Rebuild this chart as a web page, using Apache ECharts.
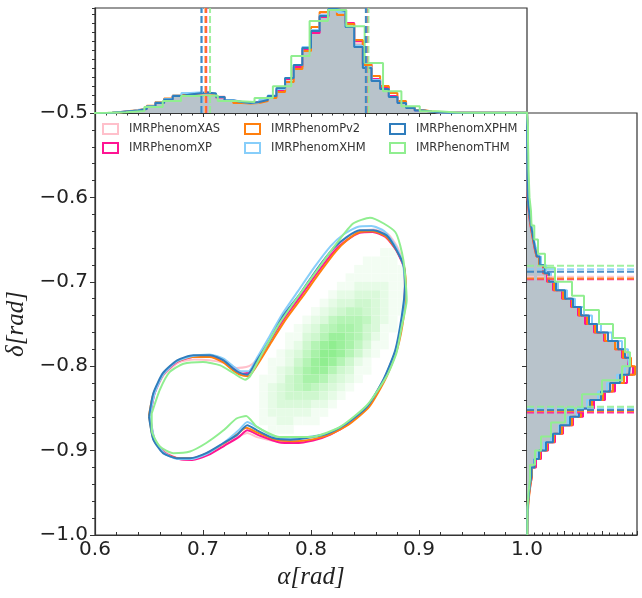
<!DOCTYPE html>
<html><head><meta charset="utf-8">
<script src="https://cdn.jsdelivr.net/npm/echarts@6/dist/echarts.min.js"></script>
<style>html,body{margin:0;padding:0;background:#fff}#c{width:642px;height:598px}</style>
</head><body><div id="c"></div>
<script>
// ---------- data ----------
const names = ['IMRPhenomXAS','IMRPhenomXP','IMRPhenomPv2','IMRPhenomXHM','IMRPhenomXPHM','IMRPhenomTHM'];
const colors = ['#ffc0cb','#ff1493','#ff7f0e','#87cefa','#2f7dbd','#90ee90'];

// 90% contours in (alpha, delta)
const contourXAS = [[0.651,-0.858],[0.655,-0.886],[0.665,-0.902],[0.678,-0.909],[0.691,-0.909],[0.705,-0.902],[0.720,-0.891],[0.733,-0.883],[0.741,-0.879],[0.750,-0.884],[0.768,-0.889],[0.785,-0.890],[0.802,-0.887],[0.818,-0.880],[0.835,-0.867],[0.853,-0.846],[0.868,-0.814],[0.879,-0.779],[0.885,-0.740],[0.887,-0.705],[0.886,-0.681],[0.880,-0.659],[0.871,-0.643],[0.858,-0.638],[0.845,-0.640],[0.833,-0.648],[0.821,-0.662],[0.805,-0.688],[0.790,-0.715],[0.775,-0.742],[0.762,-0.768],[0.753,-0.787],[0.746,-0.797],[0.740,-0.801],[0.731,-0.802],[0.719,-0.796],[0.706,-0.793],[0.692,-0.792],[0.677,-0.796],[0.664,-0.810],[0.655,-0.833]];
const contourXP = [[0.651,-0.860],[0.655,-0.887],[0.665,-0.903],[0.678,-0.910],[0.690,-0.911],[0.705,-0.905],[0.720,-0.894],[0.733,-0.884],[0.741,-0.876],[0.752,-0.882],[0.770,-0.890],[0.785,-0.891],[0.802,-0.888],[0.818,-0.881],[0.835,-0.868],[0.853,-0.847],[0.868,-0.815],[0.879,-0.780],[0.885,-0.741],[0.887,-0.706],[0.886,-0.683],[0.879,-0.663],[0.869,-0.647],[0.857,-0.641],[0.845,-0.642],[0.834,-0.650],[0.822,-0.663],[0.806,-0.689],[0.791,-0.716],[0.776,-0.742],[0.763,-0.768],[0.752,-0.792],[0.743,-0.807],[0.736,-0.809],[0.729,-0.802],[0.719,-0.793],[0.706,-0.788],[0.690,-0.789],[0.676,-0.795],[0.663,-0.810],[0.655,-0.833]];
const contourPv2 = [[0.650,-0.858],[0.654,-0.886],[0.664,-0.903],[0.677,-0.909],[0.690,-0.909],[0.704,-0.903],[0.720,-0.891],[0.732,-0.880],[0.740,-0.873],[0.751,-0.879],[0.767,-0.887],[0.784,-0.889],[0.800,-0.887],[0.817,-0.881],[0.835,-0.869],[0.854,-0.848],[0.869,-0.815],[0.880,-0.779],[0.886,-0.740],[0.888,-0.705],[0.886,-0.681],[0.879,-0.662],[0.869,-0.646],[0.857,-0.640],[0.845,-0.641],[0.834,-0.650],[0.823,-0.664],[0.807,-0.691],[0.792,-0.718],[0.777,-0.744],[0.764,-0.770],[0.752,-0.795],[0.742,-0.812],[0.734,-0.810],[0.727,-0.804],[0.718,-0.795],[0.706,-0.789],[0.690,-0.789],[0.675,-0.795],[0.663,-0.810],[0.654,-0.833]];
const contourXHM = [[0.651,-0.858],[0.655,-0.886],[0.664,-0.903],[0.677,-0.910],[0.690,-0.910],[0.705,-0.903],[0.721,-0.889],[0.733,-0.876],[0.741,-0.866],[0.750,-0.872],[0.765,-0.883],[0.781,-0.886],[0.797,-0.884],[0.816,-0.879],[0.834,-0.867],[0.853,-0.846],[0.868,-0.814],[0.879,-0.779],[0.885,-0.740],[0.887,-0.704],[0.885,-0.678],[0.878,-0.657],[0.868,-0.640],[0.856,-0.634],[0.843,-0.635],[0.830,-0.644],[0.818,-0.658],[0.803,-0.683],[0.788,-0.711],[0.773,-0.739],[0.761,-0.766],[0.750,-0.790],[0.742,-0.806],[0.735,-0.806],[0.728,-0.800],[0.719,-0.791],[0.706,-0.786],[0.690,-0.788],[0.675,-0.795],[0.663,-0.810],[0.655,-0.833]];
const contourXPHM = [[0.650,-0.860],[0.654,-0.887],[0.663,-0.903],[0.676,-0.909],[0.688,-0.909],[0.703,-0.903],[0.719,-0.891],[0.731,-0.882],[0.741,-0.870],[0.750,-0.876],[0.765,-0.885],[0.781,-0.887],[0.796,-0.885],[0.815,-0.880],[0.833,-0.868],[0.852,-0.848],[0.867,-0.816],[0.878,-0.781],[0.884,-0.741],[0.887,-0.706],[0.886,-0.682],[0.879,-0.662],[0.870,-0.645],[0.858,-0.639],[0.845,-0.639],[0.833,-0.647],[0.821,-0.660],[0.805,-0.686],[0.790,-0.714],[0.774,-0.741],[0.762,-0.769],[0.750,-0.793],[0.741,-0.810],[0.734,-0.808],[0.728,-0.803],[0.719,-0.793],[0.707,-0.787],[0.691,-0.787],[0.676,-0.793],[0.663,-0.808],[0.654,-0.832]];
const contourTHM = [[0.6525,-0.856],[0.6525,-0.876],[0.660,-0.895],[0.6725,-0.903],[0.688,-0.901],[0.703,-0.891],[0.719,-0.876],[0.731,-0.862],[0.740,-0.859],[0.750,-0.872],[0.771,-0.884],[0.802,-0.8835],[0.827,-0.872],[0.852,-0.846],[0.870,-0.812],[0.879,-0.785],[0.884,-0.753],[0.8886,-0.722],[0.8855,-0.674],[0.878,-0.641],[0.8546,-0.624],[0.839,-0.631],[0.824,-0.654],[0.808,-0.682],[0.790,-0.714],[0.771,-0.749],[0.753,-0.789],[0.7435,-0.812],[0.739,-0.816],[0.728,-0.808],[0.716,-0.799],[0.700,-0.795],[0.682,-0.797],[0.669,-0.807],[0.660,-0.828]];

// 2D density (levels 0-9); columns alpha from 0.752 step 0.008, rows delta from -0.65 downward step 0.01
const heatAlpha0 = 0.752, heatDAlpha = 0.008, heatDelta0 = -0.65, heatDDelta = 0.01;
const heatRows = [
"00000000000000000",
"00000000000000110",
"00000000000011110",
"00000000000111111",
"00000000001111111",
"00000000011222211",
"00000000122333211",
"00000001233443211",
"00000012345543211",
"00000123566653210",
"00001235677643110",
"00011346887642100",
"00012468987531100",
"00123579986421000",
"01124689864210000",
"01235788643110000",
"11245776432100000",
"12345654321000000",
"12344443210000000",
"12333322100000000",
"12222211000000000",
"11221110000000000",
"01110000000000000"
];

// alpha marginal histograms (bins of 0.008 from 0.6)
const alphaBin0 = 0.6, alphaBinW = 0.008;
const histAlphaAll  = [0,0.3,0.9,1.8,2.6,4.2,6.8,10.5,14,17.5,19,19.8,20.3,19.2,16,12.8,10.8,10,10.5,12.7,16.6,23,33.5,46.5,64,83,98,103.5,101.5,88,69,47,34,25,17,10.5,5.4,2.6,1.2,0.6,0.3,0.3,0.3,0.2,0.2,0.2,0.2,0.2,0.2,0.2];
const histAlphaXAS  = [0,0.3,0.8,1.6,2.6,4.2,6.8,10.5,14,17.5,19,19.5,20,19,16.5,13,11,10.5,10.5,12.5,16.5,23,33,47,64,83,99,103,101,88,70,47,33,25,16,10,5.5,2.5,1.2,0.6,0.3,0.3,0.3,0.3,0.2,0.2,0.2,0.2,0.2,0.2];
const histAlphaXP   = [0,0.3,0.9,1.8,2.6,4.3,7,10.5,14,17,19,20,20.5,19,15.5,12.5,10.5,10,11,12.5,16.5,23,34,46,63,80,96,103,103,90,72,49,34,26,17,11,5.5,2.5,1.2,0.6,0.3,0.3,0.3,0.3,0.2,0.2,0.2,0.2,0.2,0.2];
const histAlphaPv2  = [0,0.3,0.8,2,2.8,4.5,7.2,11,14.5,17.5,19,19.5,20,19,16,12.5,10,9.5,10,12,15,21,31,44,62,86,101,104,98,89,73,48,37,27,20,12,6,3,1.5,0.8,0.4,0.3,0.3,0.2,0.2,0.2,0.2,0.2,0.2,0.2];
const histAlphaXHM  = [0,0.3,1,1.8,2.7,4.2,6.8,10.5,14,17.5,20,20.5,20.5,19.5,16,13,11,10,10.5,13,17.5,24,35,48,66,83,98,104,101,86,67,46,33,24,16,10,5,2.5,1.2,0.6,0.3,0.3,0.3,0.3,0.2,0.2,0.2,0.2,0.2,0.2];
const histAlphaXPHM = [0,0.3,1,1.8,2.5,4,6.5,10,13.5,17,18.5,19.5,20.5,19.5,16,12.5,11,10,11,13,17,25,35,48,65,82,97,104,102,86,66,45,32,24,16,10,5,2.5,1.2,0.6,0.3,0.3,0.3,0.3,0.3,0.2,0.2,0.2,0.2,0.2];
// THM uses coarser bins
const alphaBinTHM0 = 0.5947, alphaBinTHMW = 0.017;
const histAlphaTHM  = [0.2,0.7,2,6,12,17,17.5,12,11,15,26.7,57,92,103,86.7,50,21.7,6.7,1.7,0.5,0.3,0.3,0.2,0.2];

// delta marginal histograms (bins of 0.01 from -0.5 downward)
const deltaBin0 = -0.5, deltaBinW = 0.01;
const histDeltaAll  = [0.3,0.3,0.3,0.3,0.3,0.3,0.4,0.5,0.6,0.8,1.5,2.4,3.5,5,6.4,8,10,12.7,17,21.5,28.5,37.5,45.5,53.5,61,69.5,80,91,98,103,104,95,85,75.5,64.5,53,44,34,26.5,19.5,13,8,4.8,3.2,2.2,1.3,0.7,0.4,0.3,0.2];
const histDeltaXAS  = [0.2,0.2,0.3,0.3,0.3,0.3,0.4,0.4,0.5,0.7,1.3,2.2,3.3,4.7,6.2,7.8,9.8,12.3,16.5,21,28,37,45,53,61,70,80,92,99,103,104,96,85,76,65,54,45,35,28,21,14,8.5,5,3.3,2.2,1.3,0.7,0.4,0.3,0.2];
const histDeltaXP   = [0.2,0.2,0.2,0.2,0.3,0.3,0.3,0.4,0.5,0.6,1.2,2,3,4.5,6,7.5,9.5,12,16,20,26,35,44,51,58,67,77,88,95,101,106,100,88,78,67,56,46,36,28,21,14,9,5,3.5,2.2,1.3,0.7,0.4,0.3,0.2];
const histDeltaPv2  = [0.2,0.2,0.2,0.3,0.3,0.3,0.4,0.4,0.5,0.7,1.3,2.2,3.2,4.6,6,7.8,9.5,12,16.5,21,27,36,45,52,60,68,78,88,96,104,108,97,86,76,65,54,45,35,27,20,13,8,5,3.5,2.5,1.5,1,0.6,0.4,0.3];
const histDeltaXHM  = [0.3,0.3,0.3,0.3,0.4,0.4,0.5,0.6,0.7,1,1.8,2.8,4,5.5,7,8.8,11,14,19,24,31,40,48,57,65,74,85,95,101,102,98,90,80,71,60,50,41,32,24,17,11,7,4.2,2.8,1.8,1,0.5,0.3,0.3,0.2];
const histDeltaXPHM = [0.3,0.3,0.3,0.3,0.3,0.4,0.4,0.5,0.6,0.8,1.5,2.5,3.5,5,6.5,8,10,12.7,17.5,22,29,38,46,54,62,70,81,91,98,103,102,93,83,74,63,52,43,33,26,19,12,7.5,4.5,3,2,1.2,0.6,0.4,0.3,0.2];
const deltaBinTHMW = 1/60;
const histDeltaTHM  = [1,1,1.3,1.5,2,2.5,4,4.5,7.3,11,18,28,45,57,72,86,98,103,95,75,55,38,24,14,8,3,1.5,0.5,0.4,0.3];

// 5% / 95% quantiles
const alphaLow  = [0.7020,0.7030,0.7025,0.6990,0.6985,0.7065];
const alphaHigh = [0.8515,0.8520,0.8512,0.8510,0.8508,0.8532];
const deltaHigh = [-0.694,-0.697,-0.696,-0.685,-0.688,-0.681];
const deltaLow  = [-0.854,-0.855,-0.853,-0.850,-0.852,-0.848];

const xTicks = [0.6,0.7,0.8,0.9,1.0];
const yTicks = [-1.0,-0.9,-0.8,-0.7,-0.6,-0.5];

// ---------- build ----------
const contours = [contourXAS,contourXP,contourPv2,contourXHM,contourXPHM,contourTHM];
const alphaHists = [histAlphaXAS,histAlphaXP,histAlphaPv2,histAlphaXHM,histAlphaXPHM];
const deltaHists = [histDeltaXAS,histDeltaXP,histDeltaPv2,histDeltaXHM,histDeltaXPHM];

function stepTop(start, w, h){
  const p=[[start,0]];
  h.forEach((v,k)=>{p.push([start+w*k,v]);p.push([start+w*(k+1),v]);});
  p.push([start+w*h.length,0]);
  return p;
}
function stepRight(start, w, h){
  const p=[[0,start]];
  h.forEach((v,k)=>{p.push([v,start-w*k]);p.push([v,start-w*(k+1)]);});
  p.push([0,start-w*h.length]);
  return p;
}
const heatData=[];
heatRows.forEach((row,r)=>{
  for(let c=0;c<row.length;c++){
    const v=+row[c];
    if(v>0) heatData.push([heatAlpha0+heatDAlpha*c, heatDelta0-heatDDelta*(r+1), v]);
  }
});
function heatColor(v){
  const t=v/9;
  const r=Math.round(255-(255-144)*t), g=Math.round(255-(255-238)*t), b=Math.round(255-(255-144)*t);
  return `rgb(${r},${g},${b})`;
}
const axisColor='#333';
const series=[];
// heat cells
series.push({type:'custom', xAxisIndex:0, yAxisIndex:0, data:heatData, z:1, silent:true, clip:true,
  renderItem:(params,api)=>{
    const a=api.value(0), d=api.value(1), v=api.value(2);
    const p0=api.coord([a, d+heatDDelta]), p1=api.coord([a+heatDAlpha, d]);
    return {type:'rect', shape:{x:p0[0],y:p0[1],width:p1[0]-p0[0],height:p1[1]-p0[1]}, style:{fill:heatColor(v)}};
  }});
// contours
contours.forEach((c,i)=>{
  series.push({type:'line', name:names[i], xAxisIndex:0, yAxisIndex:0, data:c.concat([c[0]]), showSymbol:false, symbol:'none',
    smooth:0.2, lineStyle:{color:colors[i], width:2}, itemStyle:{color:colors[i]}, z:3+i, silent:true});
});
// top gray fill
const grayTop=stepTop(alphaBin0,alphaBinW,histAlphaAll);
series.push({type:'custom', xAxisIndex:1, yAxisIndex:1, data:[[0.8,50]], z:1, silent:true, clip:true,
  renderItem:(params,api)=>({type:'polygon', shape:{points:grayTop.map(p=>api.coord(p))}, style:{fill:'#b8c3cb'}})});
const grayRight=stepRight(deltaBin0,deltaBinW,histDeltaAll);
series.push({type:'custom', xAxisIndex:2, yAxisIndex:2, data:[[50,-0.8]], z:1, silent:true, clip:true,
  renderItem:(params,api)=>({type:'polygon', shape:{points:grayRight.map(p=>api.coord(p))}, style:{fill:'#b8c3cb'}})});
// marginal step histograms
for(let i=0;i<6;i++){
  const top = i<5 ? stepTop(alphaBin0,alphaBinW,alphaHists[i]) : stepTop(alphaBinTHM0,alphaBinTHMW,histAlphaTHM);
  const right = i<5 ? stepRight(deltaBin0,deltaBinW,deltaHists[i]) : stepRight(deltaBin0,deltaBinTHMW,histDeltaTHM);
  series.push({type:'line', name:names[i], xAxisIndex:1, yAxisIndex:1, data:top, showSymbol:false, symbol:'none', clip:true,
    lineStyle:{color:colors[i], width:2}, itemStyle:{color:colors[i]}, z:3+i, silent:true});
  series.push({type:'line', name:names[i], xAxisIndex:2, yAxisIndex:2, data:right, showSymbol:false, symbol:'none', clip:true,
    lineStyle:{color:colors[i], width:2}, itemStyle:{color:colors[i]}, z:3+i, silent:true});
}
// quantile dashed lines
for(let i=0;i<6;i++){
  [alphaLow[i],alphaHigh[i]].forEach(q=>series.push({type:'line', xAxisIndex:1, yAxisIndex:1, data:[[q,0],[q,105]], showSymbol:false, symbol:'none',
    lineStyle:{color:colors[i], width:2, type:[7,3], opacity:0.85}, z:10+i, silent:true}));
  [deltaHigh[i],deltaLow[i]].forEach(q=>series.push({type:'line', xAxisIndex:2, yAxisIndex:2, data:[[0,q],[110,q]], showSymbol:false, symbol:'none',
    lineStyle:{color:colors[i], width:2, type:[7,3], opacity:0.85}, z:10+i, silent:true}));
}

const fmt = v => (v<0?'\u2212':'')+Math.abs(v).toFixed(1);
const tickLine={lineStyle:{color:axisColor,width:1}};
const gridBase={show:true, borderColor:axisColor, borderWidth:1.2, backgroundColor:'rgba(0,0,0,0)', containLabel:false, outerBoundsMode:'none'};
const option={
  animation:false,
  backgroundColor:'#fff',
  grid:[
    Object.assign({left:95, top:113, width:432, height:422}, gridBase),
    Object.assign({left:95, top:8, width:432, height:105}, gridBase),
    Object.assign({left:527, top:113, width:110, height:422}, gridBase)
  ],
  xAxis:[
    {gridIndex:0, type:'value', min:xTicks[0], max:xTicks[xTicks.length-1], interval:0.1,
     axisLine:{show:true,lineStyle:{color:axisColor,width:1.2}}, axisTick:{show:true,inside:true,length:5,...tickLine},
     minorTick:{show:true,splitNumber:5,length:3,...tickLine}, splitLine:{show:false},
     axisLabel:{fontSize:20,color:'#222',fontFamily:'DejaVu Sans',margin:5,formatter:v=>v.toFixed(1)},
     name:'α[rad]', nameLocation:'middle', nameGap:27,
     nameTextStyle:{fontFamily:'Liberation Serif',fontStyle:'italic',fontSize:25,color:'#222'}},
    {gridIndex:1, type:'value', min:0.6, max:1.0, interval:0.05,
     axisLine:{show:true,lineStyle:{color:axisColor,width:1.2}}, axisTick:{show:true,inside:false,length:4,...tickLine},
     minorTick:{show:true,splitNumber:5,length:2.5,...tickLine}, splitLine:{show:false}, axisLabel:{show:false}},
    {gridIndex:2, type:'value', min:0, max:110, interval:37.5,
     axisLine:{show:true,lineStyle:{color:axisColor,width:1.2}}, axisTick:{show:true,inside:true,length:4,...tickLine},
     minorTick:{show:true,splitNumber:5,length:2.5,...tickLine}, splitLine:{show:false}, axisLabel:{show:false}}
  ],
  yAxis:[
    {gridIndex:0, type:'value', min:yTicks[0], max:yTicks[yTicks.length-1], interval:0.1,
     axisLine:{show:true,lineStyle:{color:axisColor,width:1.2}}, axisTick:{show:true,inside:false,length:5,...tickLine},
     minorTick:{show:true,splitNumber:5,length:3,...tickLine}, splitLine:{show:false},
     axisLabel:{fontSize:20,color:'#222',fontFamily:'DejaVu Sans',margin:7,formatter:fmt},
     name:'δ[rad]', nameLocation:'middle', nameGap:58, nameRotate:90,
     nameTextStyle:{fontFamily:'Liberation Serif',fontStyle:'italic',fontSize:25,color:'#222'}},
    {gridIndex:1, type:'value', min:0, max:105, interval:9,
     axisLine:{show:true,lineStyle:{color:axisColor,width:1.2}}, axisTick:{show:true,inside:false,length:3,...tickLine},
     splitLine:{show:false}, axisLabel:{show:false}},
    {gridIndex:2, type:'value', min:-1.0, max:-0.5, interval:0.1,
     axisLine:{show:true,lineStyle:{color:axisColor,width:1.2}}, axisTick:{show:true,inside:false,length:5,...tickLine},
     minorTick:{show:true,splitNumber:5,length:3,...tickLine}, splitLine:{show:false}, axisLabel:{show:false}}
  ],
  legend:[0,1,2].map(ci=>({
    orient:'vertical', left:[102,244,389][ci], top:122, padding:0, itemWidth:15, itemHeight:10, itemGap:5,
    icon:'rect', selectedMode:false,
    textStyle:{fontFamily:'DejaVu Sans',fontSize:11.5,color:'#333',lineHeight:14,padding:[0,0,0,6]},
    data:names.slice(ci*2,ci*2+2).map((n,j)=>({name:n, icon:'rect',
      itemStyle:{color:'rgba(0,0,0,0)', borderColor:colors[ci*2+j], borderWidth:2}}))
  })),
  series:series
};
const chart=echarts.init(document.getElementById('c'),null,{renderer:'canvas'});
chart.setOption(option);
</script>
</body></html>
